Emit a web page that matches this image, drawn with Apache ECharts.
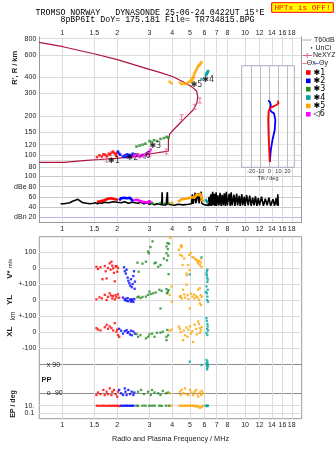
<!DOCTYPE html>
<html><head><meta charset="utf-8">
<script src="https://cdn.jsdelivr.net/npm/echarts@6/dist/echarts.min.js"></script>
<style>html,body{margin:0;padding:0;background:#fff}#chart{width:335px;height:451px}</style>
</head><body><div id="chart"></div>
<script>
// ---- axis ticks ----
const freqTicks = [1, 1.5, 2, 3, 4, 5, 6, 7, 8, 10, 12, 14, 16, 18];
const heightTicks = [80, 90, 100, 120, 150, 200, 300, 400, 600, 800];
const dbTicks = [20, 40, 60, 80, 100];
const tiltTicks = [-20, -10, 0, 10, 20];
const velTicks = [-100, 0, 100];
const ppTicks = [-90, 90];
const epTicks = [0.1, 10];

// ---- real-height profile [MHz, km] and NeXYZ points ----
const profile = [[0.748,87.5],[1.02,87.5],[1.04,89],[1.36,90.7],[1.6,92],[1.98,94],[2.66,98],[3.0,101.5],[3.64,105.8],[3.81,107.1],[3.81,130],[3.87,145],[4.05,156],[4.40,176],[4.78,198],[5.20,223],[5.45,252],[5.51,282],[5.43,314],[5.10,339],[4.58,370],[4.04,405],[3.42,438],[3.0,462],[1.98,553],[1.51,608],[1.01,693],[0.748,750]];
const nexyz = [[1.75,92],[3.0,101],[3.72,106],[4.5,196],[5.31,237],[5.66,264]];

// ---- tilt profiles [deg, km] ----
const tiltX = [[0.5,88],[-0.2,109],[-0.9,148],[-1.3,187],[-0.9,216],[0.5,230],[4,237],[7.7,244],[10.1,252],[11.2,259],[9.4,264]];
const tiltY = [[0.5,88],[1.6,109],[3.4,130],[5.9,156],[6.6,187],[5.1,210],[2.3,216],[0.5,226],[1.6,244],[0.5,259],[-1.3,264]];

// ---- virtual heights of echo groups [MHz, km] ----
const echo1Height = [[1.55,96],[1.6,99],[1.65,97],[1.68,101],[1.72,100],[1.76,98],[1.8,102],[1.83,100],[1.86,104],[1.9,106],[1.93,103],[1.96,101],[1.98,98],[2.0,104]];
const echo2Height = [[2.02,106],[2.05,102],[2.08,100],[2.15,97],[2.2,99],[2.23,96],[2.26,101],[2.3,98],[2.33,100],[2.36,97],[2.4,99],[2.43,102]];
const echo3Height = [[2.55,116],[2.65,118],[2.75,120],[2.85,122],[3.0,128],[3.08,126],[3.18,130],[3.3,128],[3.45,133],[3.6,135],[3.72,138],[3.8,136]];
const echo4Height = [[5.78,387],[6.12,418],[6.15,423],[6.17,428],[6.2,433],[6.24,440],[6.29,448],[6.26,444]];
const echo5Height = [[3.87,370],[3.96,360],[4.4,364],[4.49,354],[4.58,360],[4.7,357],[4.78,356],[4.86,362],[4.94,370],[5.02,376],[5.1,385],[5.15,395],[5.2,405],[5.26,420],[5.31,433],[5.36,447],[5.42,460],[5.48,475],[5.54,489],[5.6,497],[5.66,504],[5.72,515],[5.78,526],[5.15,372],[5.25,395]];
const echo6Height = [[2.45,97],[2.5,100],[2.55,98],[2.6,101],[2.65,96],[2.7,99],[2.75,100],[2.8,98],[2.9,103],[2.95,101],[3.0,106],[3.05,110]];
const echoTags = [['✱1',1.92,90],['✱2',2.42,94],['◁6',2.84,98],['✱3',3.23,117.6],['✱5',5.43,349],['✱4',6.28,380]];

// ---- amplitudes [MHz, dB] ----
const unclAmp = [[0.98,46],[1.0,48],[1.02,46],[1.04,48],[1.06,47],[1.08,49],[1.1,48],[1.12,50],[1.14,51],[1.16,52],[1.18,53],[1.2,54],[1.22,55],[1.24,53],[1.26,51],[1.28,49],[1.3,48],[1.33,49],[1.36,47],[1.39,48],[1.42,46],[1.45,48],[1.48,47],[1.52,48],[1.56,46],[1.6,48],[1.65,47],[1.7,49],[1.8,48],[1.9,50],[2.0,49],[2.1,48],[2.2,50],[2.3,47],[2.4,49],[2.5,48],[2.6,47],[2.7,49],[2.8,46],[2.9,48],[3.0,45],[3.1,47],[3.2,44],[3.3,46],[3.4,45],[3.5,44],[3.52,69],[3.54,44],[3.6,46],[3.7,44],[3.74,45],[3.76,69],[3.78,45],[3.85,43],[3.95,44],[4.1,43],[4.3,45],[4.6,44],[4.9,45],[5.1,46],[5.15,65],[5.2,46],[5.3,47],[5.34,68],[5.38,47],[5.5,48],[5.56,67],[5.6,47],[5.7,48],[5.76,70],[5.8,47],[5.9,45],[6.0,44],[6.3,43],[6.35,60],[6.4,42],[6.5,65],[6.55,42],[6.65,70],[6.7,43],[6.8,66],[6.85,42],[6.95,69],[7.0,42],[7.1,63],[7.2,43],[7.3,68],[7.4,42],[7.5,64],[7.6,43],[7.7,67],[7.8,42],[7.9,70],[8.0,43],[8.2,66],[8.3,42],[8.4,69],[8.5,43],[8.7,64],[8.8,42],[9.0,66],[9.1,43],[9.3,62],[9.4,42],[9.6,65],[9.7,43],[9.9,60],[10.0,42],[10.2,63],[10.4,43],[10.6,62],[10.8,42],[11.0,58],[11.2,43],[11.4,61],[11.6,42],[11.8,57],[12.0,43],[12.3,60],[12.6,42],[12.9,56],[13.2,43],[13.5,58],[13.8,42],[14.2,55],[14.5,42],[14.8,57],[15.0,43],[15.1,65],[15.2,42]];
const echo1Amp = [[1.55,50],[1.58,52],[1.62,51],[1.66,54],[1.7,53],[1.74,55],[1.78,56],[1.82,54],[1.86,57],[1.9,58],[1.94,55],[1.98,56],[2.02,54]];
const echo2Amp = [[2.05,53],[2.1,57],[2.14,55],[2.18,58],[2.22,60],[2.26,57],[2.3,55],[2.34,58],[2.38,56],[2.42,53],[2.46,51]];
const echo3Amp = [[3.05,47],[3.1,50],[3.15,48],[3.2,'-'],[3.4,49],[3.45,46],[3.5,'-'],[3.6,47],[3.65,45],[3.7,'-'],[3.82,48],[3.86,45]];
const echo4Amp = [[6.05,55],[6.1,52],[6.15,57],[6.2,50],[6.25,47]];
const echo5Amp = [[3.92,48],[3.96,46],[4.0,50],[4.05,47],[4.2,'-'],[4.3,50],[4.4,53],[4.5,55],[4.6,52],[4.7,56],[4.8,54],[4.9,57],[5.0,55],[5.1,59],[5.2,62],[5.3,58],[5.4,64],[5.5,66],[5.6,63],[5.7,67],[5.75,60],[5.8,56],[5.85,52],[5.9,49]];
const echo6Amp = [[2.48,53],[2.52,56],[2.56,54],[2.6,57],[2.65,52],[2.7,55],[2.75,50],[2.8,53],[2.85,49],[2.9,51],[2.95,48],[3.0,52],[3.05,48]];

// ---- Doppler velocity V* [MHz, m/s] ----
const echo1Vel = [[1.54,8],[1.57,-6],[1.62,5],[1.66,-70],[1.71,13],[1.73,-20],[1.75,-65],[1.78,0],[1.82,30],[1.84,-10],[1.86,40],[1.88,15],[1.9,-2],[1.92,-30],[1.94,-83],[1.96,10],[1.98,13],[2.0,-23],[2.02,0]];
const echo2Vel = [[2.18,5],[2.2,-20],[2.23,-35],[2.25,-10],[2.28,-60],[2.3,-80],[2.33,-95],[2.36,-110],[2.38,-70],[2.4,-120],[2.43,-100],[2.45,-50],[2.47,-20],[2.49,-130],[2.5,-85]];
const echo3Vel = [[2.58,34],[2.62,-23],[2.75,28],[2.87,40],[2.95,104],[2.98,93],[3.04,132],[3.12,168],[3.2,30],[3.25,34],[3.35,8],[3.45,19],[3.6,60],[3.72,136],[3.72,93],[3.74,49],[3.76,157],[3.78,119],[3.8,78],[3.82,-38],[3.84,153]];
const echo4Vel = [[4.98,-40],[5.78,68],[6.15,-34],[6.18,-45],[6.2,-60],[6.22,-87],[6.25,-72],[6.18,-20],[6.22,-10]];
const echo5Vel = [[3.9,190],[4.35,115],[4.42,83],[4.45,142],[4.49,131],[4.5,139],[4.52,76],[4.55,19],[4.65,60],[4.78,-34],[4.8,-45],[4.88,19],[4.95,83],[4.98,-13],[5.05,95],[5.15,70],[5.25,65],[5.35,55],[5.42,51],[5.5,40],[5.54,30],[5.6,45],[5.66,19],[5.72,35],[5.78,8],[5.75,60]];

// ---- YL [MHz, km] ----
const echo1YL = [[1.54,4],[1.6,17],[1.65,10],[1.71,32],[1.75,0],[1.78,20],[1.82,42],[1.85,28],[1.88,10],[1.9,25],[1.94,4],[1.96,30],[1.98,17],[2.02,35],[2.05,14]];
const echo2YL = [[2.15,15],[2.2,0],[2.22,8],[2.25,-5],[2.28,12],[2.3,-8],[2.35,3],[2.38,-10],[2.4,5],[2.42,-3],[2.45,-12],[2.48,6]];
const echo3YL = [[2.58,17],[2.62,21],[2.68,12],[2.75,19],[2.87,21],[2.95,32],[3.0,53],[3.05,38],[3.15,42],[3.25,47],[3.4,64],[3.45,-53],[3.5,57],[3.72,68],[3.74,42],[3.78,50],[3.82,62]];
const echo4YL = [[6.15,85],[6.25,64],[6.18,42],[6.22,21],[6.2,0],[6.28,-11],[6.12,50]];
const echo5YL = [[3.87,32],[3.96,85],[3.98,-11],[4.4,20],[4.45,25],[4.5,10],[4.58,64],[4.65,35],[4.7,15],[4.78,96],[4.85,30],[4.9,5],[4.98,-53],[5.05,40],[5.15,20],[5.25,35],[5.3,10],[5.4,25],[5.5,15],[5.54,64],[5.6,0],[5.66,74],[5.66,-21],[5.72,30],[5.75,-32],[5.8,20]];

// ---- XL [MHz, km] ----
const echo1XL = [[1.54,24],[1.57,15],[1.62,10],[1.71,30],[1.75,45],[1.78,20],[1.82,35],[1.86,25],[1.9,10],[1.94,55],[1.98,2],[2.0,15],[2.02,-19],[2.05,-30]];
const echo2XL = [[2.05,20],[2.1,8],[2.15,-10],[2.2,5],[2.25,12],[2.28,-5],[2.3,0],[2.35,-15],[2.38,8],[2.4,-20],[2.45,3],[2.5,-10]];
const echo3XL = [[2.55,-13],[2.6,-30],[2.68,-20],[2.87,-40],[2.95,-30],[3.0,-15],[3.1,-10],[3.2,-30],[3.3,-5],[3.45,-4],[3.55,2],[3.72,-30],[3.72,-51],[3.76,13],[3.8,-20]];
const echo4XL = [[6.15,87],[6.18,70],[6.22,50],[6.25,35],[6.2,20],[6.28,10],[6.15,-5],[6.22,-19]];
const echo5XL = [[3.87,8],[3.96,14],[4.35,34],[4.4,20],[4.45,0],[4.58,-51],[4.62,10],[4.7,-20],[4.78,28],[4.85,-30],[4.9,15],[5.0,35],[5.05,-10],[5.15,5],[5.2,-62],[5.3,45],[5.4,20],[5.45,-15],[5.54,66],[5.6,50],[5.66,25],[5.66,-5],[5.75,10],[5.8,30]];

// ---- polarization PP [MHz, deg] ----
const echo1PP = [[1.54,-101],[1.57,-85],[1.62,-95],[1.68,-69],[1.71,-101],[1.75,-80],[1.78,-95],[1.82,-59],[1.86,-101],[1.88,-80],[1.92,-69],[1.96,-95],[2.0,-111],[2.02,-80]];
const echo2PP = [[2.05,-69],[2.1,-90],[2.15,-101],[2.2,-59],[2.22,-80],[2.25,-101],[2.3,-69],[2.35,-95],[2.4,-80],[2.45,-101],[2.48,-85]];
const echo3PP = [[2.6,-80],[2.7,-69],[2.8,-95],[2.95,-80],[3.05,-101],[3.1,-69],[3.2,-85],[3.35,-90],[3.45,-101],[3.55,-75],[3.7,-90],[3.8,-85]];
const echo4PP = [[4.98,109],[5.78,88],[6.15,100],[6.18,85],[6.2,70],[6.22,110],[6.25,95],[6.2,60],[6.28,80],[6.15,120]];
const echo5PP = [[3.87,-90],[4.4,-80],[4.45,-101],[4.5,-69],[4.6,-90],[4.7,-59],[4.8,-95],[4.9,-101],[5.0,-69],[5.1,-85],[5.2,-101],[5.3,-80],[5.4,-69],[5.5,-95],[5.55,-111],[5.65,-85],[5.75,-101],[5.8,-75],[5.9,-90]];

// ---- EP [MHz, deg] ----
const echo1EP = [[1.55,10],[1.6,9],[1.65,10],[1.7,10],[1.75,9],[1.8,10],[1.85,9],[1.9,10],[1.95,9],[2.0,10],[2.05,8]];
const echo2EP = [[2.1,10],[2.15,9],[2.2,10],[2.25,10],[2.3,9],[2.35,10],[2.4,9],[2.45,10]];
const echo3EP = [[2.55,10],[2.6,9],[2.75,10],[2.85,10],[3.0,9],[3.1,10],[3.2,10],[3.4,10],[3.5,9],[3.7,10],[3.85,10]];
const echo4EP = [[6.12,10],[6.18,8],[6.22,10],[6.25,9]];
const echo5EP = [[3.95,10],[4.4,10],[4.5,9],[4.6,10],[4.7,9],[4.8,10],[4.9,10],[5.0,9],[5.1,10],[5.2,9],[5.3,10],[5.4,6],[5.5,9],[5.6,4],[5.7,3],[5.8,6],[5.9,10]];

const groups = [
  {tag: '✱1', color: '#ff0000', height: echo1Height, amp: echo1Amp, vel: echo1Vel, yl: echo1YL, xl: echo1XL, pp: echo1PP, ep: echo1EP},
  {tag: '✱2', color: '#0000ff', height: echo2Height, amp: echo2Amp, vel: echo2Vel, yl: echo2YL, xl: echo2XL, pp: echo2PP, ep: echo2EP},
  {tag: '✱3', color: '#228b22', height: echo3Height, amp: echo3Amp, vel: echo3Vel, yl: echo3YL, xl: echo3XL, pp: echo3PP, ep: echo3EP},
  {tag: '✱4', color: '#00a4a4', height: echo4Height, amp: echo4Amp, vel: echo4Vel, yl: echo4YL, xl: echo4XL, pp: echo4PP, ep: echo4EP},
  {tag: '✱5', color: '#ffa500', height: echo5Height, amp: echo5Amp, vel: echo5Vel, yl: echo5YL, xl: echo5XL, pp: echo5PP, ep: echo5EP},
  {tag: '◁6', color: '#ff00ff', height: echo6Height, amp: echo6Amp}
];

// ---- layout ----
const L = 39.3, W = 262.4;
const tickFont = {fontSize: 7, color: '#222', fontFamily: 'Liberation Sans', hideOverlap: false,
  showMinLabel: true, showMaxLabel: true};
const gridLine = {color: '#dcdcdc', width: 1};
const frameLine = {color: '#999', width: 1};

function freqAxis(gridIndex, opts) {
  opts = opts || {};
  return {
    type: 'log', logBase: 10, gridIndex: gridIndex, min: 0.75, max: 20.4,
    show: opts.show !== false, position: opts.position || 'bottom',
    axisLine: {show: !!opts.line, lineStyle: frameLine},
    axisTick: {show: false, customValues: freqTicks},
    axisLabel: Object.assign({show: !!opts.labels, customValues: freqTicks, margin: opts.margin,
      formatter: v => String(+(+v).toFixed(2))}, tickFont),
    splitLine: {show: !!opts.split, lineStyle: gridLine},
    name: opts.name || '', nameLocation: 'middle', nameGap: opts.nameGap || 15,
    nameTextStyle: {fontSize: 7.3, color: '#222', fontFamily: 'Liberation Sans'}
  };
}

function valueY(gridIndex, min, max, ticks, fmt, extra) {
  return Object.assign({
    type: 'value', gridIndex: gridIndex, min: min, max: max,
    axisLine: {show: false}, axisTick: {show: false, customValues: ticks},
    axisLabel: Object.assign({customValues: ticks, margin: 3, formatter: fmt}, tickFont),
    splitLine: {show: true, lineStyle: gridLine}
  }, extra || {});
}

const grid = [
  {left: L, top: 37, width: W, height: 134.5},            // 0 heights
  {left: L, top: 171.5, width: W, height: 50.5},          // 1 amplitudes
  {left: 241.7, top: 65.7, width: 52.6, height: 101.6, show: true, backgroundColor: '#fff', borderColor: '#a8a8c0', borderWidth: 1, z: 3}, // 2 tilt
  {left: L, top: 236.7, width: W, height: 182, show: true, borderColor: '#999', borderWidth: 1}, // 3 lower frame
  {left: L, top: 252.15, width: W, height: 31.85},        // 4 V*
  {left: L, top: 284, width: W, height: 32},              // 5 YL
  {left: L, top: 316, width: W, height: 32},              // 6 XL
  {left: L, top: 364.7, width: W, height: 28.6},          // 7 PP
  {left: L, top: 401.9, width: W, height: 15.2}           // 8 EP
];

const xAxis = [
  freqAxis(0, {position: 'top', labels: true, split: true, margin: 0}),
  freqAxis(1, {labels: true, split: true, line: true, margin: 4}),
  {type: 'value', gridIndex: 2, min: -30.5, max: 27.5, z: 4,
    axisLine: {show: false}, axisTick: {show: false, customValues: tiltTicks},
    axisLabel: {customValues: tiltTicks, margin: 1, fontSize: 5.5, color: '#333', fontFamily: 'Liberation Sans',
      hideOverlap: false, showMinLabel: true, showMaxLabel: true},
    splitLine: {show: true, lineStyle: {color: '#bcbcbc', width: 1}},
    name: 'Tilt / deg', nameLocation: 'middle', nameGap: 5,
    nameTextStyle: {fontSize: 5.5, color: '#333', fontFamily: 'Liberation Sans'}},
  freqAxis(3, {labels: true, split: true, margin: 2.5, name: 'Radio and Plasma Frequency / MHz', nameGap: 17}),
  freqAxis(4, {show: false}), freqAxis(5, {show: false}), freqAxis(6, {show: false}),
  freqAxis(7, {show: false}), freqAxis(8, {show: false})
];

const yAxis = [
  {type: 'log', logBase: 10, gridIndex: 0, min: 74.2, max: 824.6,
    axisLine: {show: true, lineStyle: frameLine}, axisTick: {show: false, customValues: heightTicks},
    axisLabel: Object.assign({customValues: heightTicks, margin: 3, formatter: v => String(Math.round(v))}, tickFont),
    splitLine: {show: true, lineStyle: gridLine}},
  {type: 'log', logBase: 10, gridIndex: 0, min: 74.2, max: 824.6, position: 'right',
    axisLine: {show: true, lineStyle: frameLine}, axisTick: {show: false}, axisLabel: {show: false}, splitLine: {show: false}},
  valueY(1, 10, 110, dbTicks, v => v === 80 ? 'dBe 80' : (v === 20 ? 'dBn 20' : String(v)),
    {axisLine: {show: true, lineStyle: frameLine},
     splitLine: {show: true, lineStyle: {color: ['#b8b8ee', '#c8c8c8', '#c8c8c8', '#c8c8c8', '#c8c8c8'], width: 1}}}),
  {type: 'value', gridIndex: 1, min: 10, max: 110, position: 'right',
    axisLine: {show: true, lineStyle: frameLine}, axisTick: {show: false}, axisLabel: {show: false}, splitLine: {show: false}},
  {type: 'log', logBase: 10, gridIndex: 2, min: 80, max: 493, z: 4,
    axisLine: {show: false}, axisTick: {show: false, customValues: [90, 100, 120, 150, 200, 300, 400]},
    axisLabel: {show: false}, splitLine: {show: true, lineStyle: {color: '#e4e4e4', width: 1}}},
  {type: 'value', gridIndex: 3, min: 0, max: 1, show: false},
  valueY(4, -100, 100, velTicks, v => v === -100 ? '' : String(v)),
  valueY(5, -100, 100, velTicks, v => v === 100 ? '+-100' : (v === 0 ? '0' : '')),
  valueY(6, -100, 100, velTicks, v => v === 100 ? '+-100' : String(v)),
  valueY(7, -90, 90, ppTicks, v => v > 0 ? 'x 90' : 'o -90',
    {axisLabel: Object.assign({customValues: ppTicks, inside: true, margin: 7.5,
      formatter: v => v > 0 ? 'x 90' : 'o -90'}, tickFont),
     splitLine: {show: true, lineStyle: {color: '#8c8c8c', width: 1}}}),
  {type: 'log', logBase: 10, gridIndex: 8, min: 0.01, max: 100,
    axisLine: {show: false}, axisTick: {show: false, customValues: epTicks},
    axisLabel: Object.assign({customValues: epTicks, margin: 5, formatter: v => v >= 1 ? '10.' : '0.1'}, tickFont),
    splitLine: {show: true, lineStyle: gridLine}}
];

function dots(xi, yi, data, color, size) {
  return {type: 'scatter', xAxisIndex: xi, yAxisIndex: yi, data: data, symbol: 'rect',
    symbolSize: size, itemStyle: {color: color}, clip: false, silent: true, z: 3};
}

const series = [];
// height panel
series.push({type: 'line', xAxisIndex: 0, yAxisIndex: 0, data: profile, symbol: 'none',
  lineStyle: {color: '#b0143c', width: 1.2}, z: 2, silent: true});
series.push({type: 'scatter', xAxisIndex: 0, yAxisIndex: 0, data: nexyz,
  symbol: 'path://M0,0H4V1H2.5V5H4V6H0V5H1.5V1H0Z', symbolSize: [4, 6],
  itemStyle: {color: '#e0608c'}, z: 3, silent: true});
groups.forEach(g => series.push(dots(0, 0, g.height, g.color, 2.6)));
series.push({type: 'scatter', xAxisIndex: 0, yAxisIndex: 0, symbolSize: 0, z: 5, silent: true,
  data: echoTags.map(t => ({name: t[0], value: [t[1], t[2]]})),
  label: {show: true, position: 'inside', formatter: p => p.name, fontSize: 8, color: '#000',
    fontFamily: 'DejaVu Sans'}});
// tilt inset
series.push({type: 'line', xAxisIndex: 2, yAxisIndex: 4, data: tiltX, symbol: 'none',
  lineStyle: {color: '#ff0000', width: 1.8}, z: 10, silent: true});
series.push({type: 'line', xAxisIndex: 2, yAxisIndex: 4, data: tiltY, symbol: 'none',
  lineStyle: {color: '#0000ff', width: 1.8}, z: 9, silent: true});
// amplitude panel
series.push({type: 'line', xAxisIndex: 1, yAxisIndex: 2, data: unclAmp, symbol: 'none',
  lineStyle: {color: '#000', width: 1.6}, z: 2, silent: true});
groups.forEach(g => series.push({type: 'line', xAxisIndex: 1, yAxisIndex: 2, data: g.amp, symbol: 'none',
  connectNulls: false, lineStyle: {color: g.color, width: 2.6}, z: 3, silent: true}));
// lower panels
groups.filter(g => g.vel).forEach(g => {
  series.push(dots(4, 6, g.vel, g.color, 2.3));
  series.push(dots(5, 7, g.yl, g.color, 2.3));
  series.push(dots(6, 8, g.xl, g.color, 2.3));
  series.push(dots(7, 9, g.pp, g.color, 2.3));
  series.push(dots(8, 10, g.ep, g.color, [2.6, 2.3]));
});

// ---- texts, legend ----
const mono = 'Liberation Mono';
const graphic = [
  {type: 'text', x: 150, y: 12.5, style: {text: 'TROMSO NORWAY   DYNASONDE 25-06-24 0422UT 15°E',
    font: '8.3px "' + mono + '"', fill: '#000', align: 'center', verticalAlign: 'middle'}},
  {type: 'text', x: 157.5, y: 19.8, style: {text: '8pBP6It DoY= 175.181 File= TR734815.BPG',
    font: '8.3px "' + mono + '"', fill: '#000', align: 'center', verticalAlign: 'middle'}},
  {type: 'rect', shape: {x: 271.7, y: 2.7, width: 61.6, height: 9.6},
    style: {fill: '#ffff00', stroke: '#ff0000', lineWidth: 1}},
  {type: 'text', x: 302.5, y: 7.6, style: {text: 'HPTx is OFF!', font: '7.8px "' + mono + '"',
    fill: '#ff0000', align: 'center', verticalAlign: 'middle'}},
  // axis titles
  {type: 'text', x: 14.5, y: 67.8, rotation: Math.PI / 2, style: {text: "R', R / km",
    font: 'bold 7.5px "Liberation Sans"', fill: '#222', align: 'center', verticalAlign: 'middle'}},
  {type: 'text', x: 10, y: 274.5, rotation: Math.PI / 2, style: {text: 'V*',
    font: 'bold 8px "Liberation Sans"', fill: '#222', align: 'center', verticalAlign: 'middle'}},
  {type: 'text', x: 10.5, y: 263.5, rotation: Math.PI / 2, style: {text: 'm/s',
    font: '5.5px "Liberation Sans"', fill: '#222', align: 'center', verticalAlign: 'middle'}},
  {type: 'text', x: 9.5, y: 300, rotation: Math.PI / 2, style: {text: 'YL',
    font: 'bold 8px "Liberation Sans"', fill: '#222', align: 'center', verticalAlign: 'middle'}},
  {type: 'text', x: 13.5, y: 316, rotation: Math.PI / 2, style: {text: 'km',
    font: '6.5px "Liberation Sans"', fill: '#222', align: 'center', verticalAlign: 'middle'}},
  {type: 'text', x: 9.5, y: 331.7, rotation: Math.PI / 2, style: {text: 'XL',
    font: 'bold 8px "Liberation Sans"', fill: '#222', align: 'center', verticalAlign: 'middle'}},
  {type: 'text', x: 46.5, y: 380, style: {text: 'PP',
    font: 'bold 7.5px "Liberation Sans"', fill: '#222', align: 'center', verticalAlign: 'middle'}},
  {type: 'text', x: 13, y: 404, rotation: Math.PI / 2, style: {text: 'EP / deg',
    font: 'bold 7px "Liberation Sans"', fill: '#222', align: 'center', verticalAlign: 'middle'}},
  // legend: traces
  {type: 'line', shape: {x1: 302.5, y1: 40, x2: 311.5, y2: 40}, style: {stroke: '#aaa', lineWidth: 1}},
  {type: 'text', x: 314, y: 40, style: {text: 'T60dB', font: '7px "Liberation Sans"', fill: '#222', verticalAlign: 'middle'}},
  {type: 'rect', shape: {x: 311, y: 47.3, width: 1.2, height: 1.2}, style: {fill: '#000'}},
  {type: 'text', x: 315.5, y: 47.8, style: {text: 'UnCl', font: '7px "Liberation Sans"', fill: '#222', verticalAlign: 'middle'}},
  {type: 'line', shape: {x1: 302.5, y1: 55.5, x2: 312, y2: 55.5}, style: {stroke: '#e0608c', lineWidth: 1}},
  {type: 'line', shape: {x1: 307.2, y1: 53, x2: 307.2, y2: 58}, style: {stroke: '#e0608c', lineWidth: 1}},
  {type: 'text', x: 313, y: 55.5, style: {text: 'NeXYZ', font: '7px "Liberation Sans"', fill: '#222', verticalAlign: 'middle'}},
  {type: 'line', shape: {x1: 302.5, y1: 63.5, x2: 306.5, y2: 63.5}, style: {stroke: '#ff7070', lineWidth: 1}},
  {type: 'text', x: 306.7, y: 63.5, style: {text: 'Θx', font: '7px "Liberation Sans"', fill: '#222', verticalAlign: 'middle'}},
  {type: 'line', shape: {x1: 314.5, y1: 63.5, x2: 318.5, y2: 63.5}, style: {stroke: '#7070ff', lineWidth: 1}},
  {type: 'text', x: 319, y: 63.5, style: {text: 'Θy', font: '7px "Liberation Sans"', fill: '#222', verticalAlign: 'middle'}}
];
// legend: echo groups
groups.forEach((g, i) => {
  const y = 72.5 + i * 8.35;
  graphic.push({type: 'rect', shape: {x: 306, y: y - 2.3, width: 4.6, height: 4.6}, style: {fill: g.color}});
  graphic.push({type: 'text', x: 313.5, y: y, style: {text: g.tag, font: '8px "DejaVu Sans"',
    fill: '#000', verticalAlign: 'middle'}});
});

const chart = echarts.init(document.getElementById('chart'), null, {renderer: 'canvas'});
chart.setOption({
  animation: false,
  backgroundColor: '#fff',
  grid: grid, xAxis: xAxis, yAxis: yAxis, series: series, graphic: graphic
});
</script></body></html>
